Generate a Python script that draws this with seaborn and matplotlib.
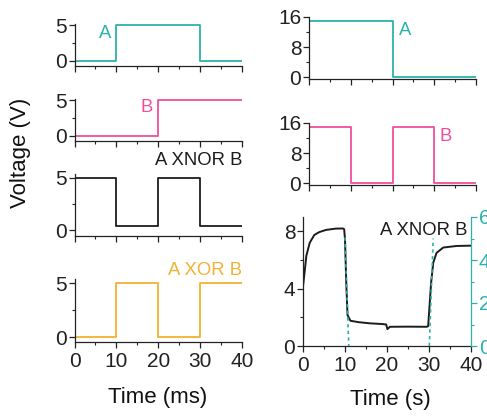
"""Electrical and optical logic signals: A, B, XNOR and XOR traces."""

import matplotlib

matplotlib.use("Agg")
import matplotlib.pyplot as plt
import pandas as pd
import seaborn as sns
from matplotlib.ticker import MultipleLocator

sns.set_theme(style="ticks")
plt.rcParams["font.family"] = ["Liberation Sans", "DejaVu Sans"]
plt.rcParams["axes.edgecolor"] = "#222222"
plt.rcParams["text.color"] = "#111111"
plt.rcParams["xtick.color"] = "#222222"
plt.rcParams["ytick.color"] = "#222222"

TEAL = "#2bb3ab"
PINK = "#ef4f9c"
ORANGE = "#f2b234"
BLACK = "#1c1c1c"

# electrical signals (ms), level held until the next time point
a_ms_t = [0, 10, 30, 40]
a_ms_v = [0, 5, 0, 0]
b_ms_t = [0, 20, 40]
b_ms_v = [0, 5, 5]
xnor_ms_t = [0, 0, 10, 20, 30, 40]
xnor_ms_v = [2.7, 5, 0.4, 5, 0.4, 0.4]
xor_ms_t = [0, 0, 10, 20, 30, 40]
xor_ms_v = [5, 0, 5, 0, 5, 5]

# optical inputs (s)
a_s_t = [0, 20, 40]
a_s_v = [15, 0, 0]
b_s_t = [0, 10, 20, 30, 40]
b_s_v = [15, 0, 15, 0, 0]

# XNOR response (s, left axis)
resp_t = [0, 0.4, 0.8, 1.6, 2.7, 3.9, 5.5, 7.8, 9.5, 9.8, 10.0, 10.3, 10.6, 11.3,
          13.3, 16.0, 19.0, 19.8, 20.1, 20.7, 25.0, 29.4, 29.8, 30.06, 30.5, 31.0,
          31.8, 33.4, 36.6, 40.0]
resp_v = [4.16, 5.2, 6.3, 7.2, 7.75, 7.95, 8.1, 8.19, 8.2, 8.15, 7.46, 4.4, 2.16, 1.76,
          1.66, 1.58, 1.53, 1.5, 1.18, 1.34, 1.35, 1.34, 1.38, 2.5, 4.4, 5.8,
          6.5, 6.87, 6.98, 7.0]

# trigger edges (s, right axis)
edge_id = ["fall", "fall", "rise", "rise"]
edge_t = [10.0, 10.9, 30.07, 31.0]
edge_v = [5.05, 0.0, 0.0, 5.0]

W, H = 487, 416
TICK_FS = 15
NOTE_FS = 13.3
LABEL_FS = 16

fig = plt.figure(figsize=(W / 100, H / 100), dpi=100)


def add_ax(left, top, right, bottom):
    return fig.add_axes([left / W, 1 - bottom / H, (right - left) / W, (bottom - top) / H])


def style(ax, ylim, major, minor, xlabels=False):
    ax.set_xlim(0, 40)
    ax.set_ylim(*ylim)
    ax.xaxis.set_major_locator(MultipleLocator(10))
    ax.xaxis.set_minor_locator(MultipleLocator(5))
    ax.yaxis.set_major_locator(MultipleLocator(major))
    ax.yaxis.set_minor_locator(MultipleLocator(minor))
    sns.despine(ax=ax)
    for s in ax.spines.values():
        s.set_linewidth(0.9)
    ax.tick_params(which="major", length=4, width=0.9, labelsize=TICK_FS, pad=1.5)
    ax.tick_params(which="minor", length=2.3, width=0.8)
    ax.tick_params(axis="x", labelbottom=xlabels, pad=3)
    ax.set_xlabel("")
    ax.set_ylabel("")


def step(ax, t, v, color):
    sns.lineplot(x=t, y=v, ax=ax, color=color, lw=1.3, drawstyle="steps-post",
                 sort=False, estimator=None)


# left column: electrical logic (ms)
l1 = add_ax(74.5, 24, 242, 66)
step(l1, a_ms_t, a_ms_v, TEAL)
style(l1, (-0.7, 5.15), 5, 2.5)
l1.text(8.8, 3.8, "A", color=TEAL, fontsize=NOTE_FS, ha="right", va="center")

l2 = add_ax(74.5, 99, 242, 141)
step(l2, b_ms_t, b_ms_v, PINK)
style(l2, (-0.7, 5.15), 5, 2.5)
l2.text(18.8, 3.9, "B", color=PINK, fontsize=NOTE_FS, ha="right", va="center")

l3 = add_ax(74.5, 174, 242, 236)
step(l3, xnor_ms_t, xnor_ms_v, BLACK)
style(l3, (-0.55, 5.38), 5, 2.5)
l3.text(40, 6.7, "A XNOR B", color=BLACK, fontsize=NOTE_FS, ha="right", va="center",
        clip_on=False)

l4 = add_ax(74.5, 279, 242, 342)
step(l4, xor_ms_t, xor_ms_v, ORANGE)
style(l4, (-0.46, 5.38), 5, 2.5, xlabels=True)
l4.text(40, 6.16, "A XOR B", color=ORANGE, fontsize=NOTE_FS, ha="right", va="center",
        clip_on=False)

fig.text(157.5 / W, 1 - 397 / H, "Time (ms)", fontsize=LABEL_FS, ha="center", va="center")
fig.text(21 / W, 1 - 153 / H, "Voltage (V)", fontsize=LABEL_FS, ha="center", va="center",
         rotation=90)

# right column: optical logic (s)
r1 = add_ax(309, 17, 476, 79)
step(r1, a_s_t, a_s_v, TEAL)
style(r1, (-0.53, 16), 8, 4)
r1.text(21.6, 12.4, "A", color=TEAL, fontsize=NOTE_FS, ha="left", va="center")

r2 = add_ax(309, 123, 476, 185)
step(r2, b_s_t, b_s_v, PINK)
style(r2, (-0.53, 16), 8, 4)
r2.text(31.2, 12.5, "B", color=PINK, fontsize=NOTE_FS, ha="left", va="center")

r3 = add_ax(303, 217, 471, 346)
sns.lineplot(x=resp_t, y=resp_v, ax=r3, color=BLACK, lw=1.4, sort=False, estimator=None)
style(r3, (0, 9), 4, 2, xlabels=True)
r3.text(39.1, 8.08, "A XNOR B", color=BLACK, fontsize=NOTE_FS, ha="right", va="center")

r3b = r3.twinx()
edges = pd.DataFrame({"edge": edge_id, "t": edge_t, "v": edge_v})
sns.lineplot(data=edges, x="t", y="v", units="edge", estimator=None, sort=False, ax=r3b,
             color=TEAL, lw=1.2, linestyle=(0, (2, 2)))
r3b.set_xlim(0, 40)
r3b.set_ylim(0, 6)
r3b.yaxis.set_major_locator(MultipleLocator(2))
r3b.yaxis.set_minor_locator(MultipleLocator(1))
for side in ("top", "left", "bottom"):
    r3b.spines[side].set_visible(False)
r3b.spines["right"].set_color(TEAL)
r3b.spines["right"].set_linewidth(0.9)
r3b.tick_params(axis="y", which="major", colors=TEAL, length=4, width=0.9,
                labelsize=TICK_FS, pad=1.5)
r3b.tick_params(axis="y", which="minor", colors=TEAL, length=2.3, width=0.8)
r3b.set_ylabel("")
r3b.set_xlabel("")

fig.text(390 / W, 1 - 399 / H, "Time (s)", fontsize=LABEL_FS, ha="center", va="center")

fig.savefig("out.png", dpi=100)
plt.close(fig)
